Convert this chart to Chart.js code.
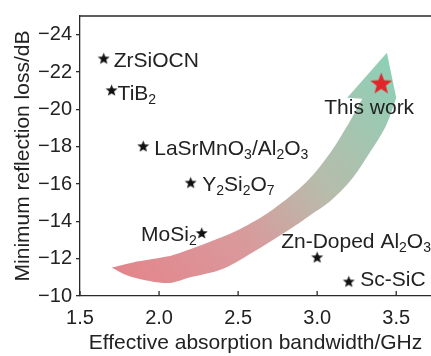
<!DOCTYPE html>
<html>
<head>
<meta charset="utf-8">
<script src="https://cdn.jsdelivr.net/npm/chart.js@4.4.1/dist/chart.umd.min.js"></script>
<style>
  html, body { margin: 0; padding: 0; background: #fff; }
</style>
</head>
<body>
<canvas id="chart" width="431" height="356"></canvas>
<script>
// reported materials ("_2" marks a subscript digit)
const materials = ['ZrSiOCN', 'TiB_2', 'LaSrMnO_3/Al_2O_3', 'Y_2Si_2O_7', 'MoSi_2', 'Zn-Doped Al_2O_3', 'Sc-SiC'];
const bandwidth = [1.65, 1.70, 1.90, 2.20, 2.27, 3.00, 3.20];
const minRL = [-22.7, -21.0, -18.0, -16.05, -13.35, -12.05, -10.75];

const thisWorkName = ['This work'];
const thisWorkBandwidth = [3.405];
const thisWorkRL = [-21.35];

const xTicks = [1.5, 2.0, 2.5, 3.0, 3.5];
const yTicks = [-24, -22, -20, -18, -16, -14, -12, -10];

const xTitle = 'Effective absorption bandwidth/GHz';
const yTitle = 'Minimum reflection loss/dB';

// trend arrow outline, in data units
const arrowUpper = [[1.701, -11.52], [1.835, -11.80], [2.049, -12.11], [2.196, -12.51], [2.354, -13.01],
                    [2.513, -13.59], [2.722, -14.65], [2.935, -16.13], [3.082, -17.66], [3.177, -18.93],
                    [3.234, -19.77], [3.285, -20.57]];
const arrowHead = [[3.190, -20.62], [3.441, -23.03], [3.500, -20.62]];
const arrowLower = [[3.481, -20.14], [3.430, -19.03], [3.335, -17.71], [3.222, -16.29], [3.082, -15.07],
                    [2.956, -14.33], [2.829, -13.59], [2.620, -12.48], [2.405, -11.46], [2.196, -11.00],
                    [2.049, -10.69], [1.835, -11.00], [1.701, -11.52]];

// label placement (pixels from the star)
const labelPlace = [
  { dx: 10, dy: 0.5, align: 'left' },
  { dx: 6, dy: 1.5, align: 'left' },
  { dx: 11, dy: 1, align: 'left' },
  { dx: 11.5, dy: 0, align: 'left' },
  { dx: -5, dy: 0, align: 'right' },
  { dx: -36, dy: -17, align: 'left' },
  { dx: 11.5, dy: -4, align: 'left' }
];
const thisWorkPlace = { dx: -12, dy: 22.5, align: 'center' };

const fontFamily = "'Liberation Sans', Arial, Helvetica, sans-serif";
const textColor = '#222';
const axisColor = '#2a2a2a';
const mainFont = '21px ' + fontFamily;
const subFont = '14px ' + fontFamily;

Chart.defaults.font.family = fontFamily;

function makeStar(r, color) {
  const c = document.createElement('canvas');
  const size = Math.ceil(2 * r + 2);
  c.width = size;
  c.height = size;
  const g = c.getContext('2d');
  const cx = size / 2, cy = size / 2, ri = r * 0.42;
  g.beginPath();
  for (let i = 0; i < 10; i++) {
    const rad = i % 2 === 0 ? r : ri;
    const a = -Math.PI / 2 + i * Math.PI / 5;
    const px = cx + rad * Math.cos(a), py = cy + rad * Math.sin(a);
    i === 0 ? g.moveTo(px, py) : g.lineTo(px, py);
  }
  g.closePath();
  g.fillStyle = color;
  g.fill();
  return c;
}
const blackStar = makeStar(6.3, '#111');
const redStar = makeStar(11.5, '#e1262b');

function parseRich(s) {
  return s.split(/_(\d)/).map((t, i) => ({ t, sub: i % 2 === 1 })).filter(p => p.t);
}

function drawRich(ctx, s, x, y, align) {
  const segs = parseRich(s);
  const widths = segs.map(p => {
    ctx.font = p.sub ? subFont : mainFont;
    return ctx.measureText(p.t).width;
  });
  const total = widths.reduce((a, b) => a + b, 0);
  let cx = align === 'right' ? x - total : align === 'center' ? x - total / 2 : x;
  segs.forEach((p, i) => {
    ctx.font = p.sub ? subFont : mainFont;
    ctx.fillText(p.t, cx, p.sub ? y + 4 : y);
    cx += widths[i];
  });
}

function smoothThrough(ctx, pts) {
  for (let i = 0; i < pts.length - 1; i++) {
    const p0 = pts[i - 1] || pts[i], p1 = pts[i], p2 = pts[i + 1], p3 = pts[i + 2] || p2;
    ctx.bezierCurveTo(
      p1[0] + (p2[0] - p0[0]) / 6, p1[1] + (p2[1] - p0[1]) / 6,
      p2[0] - (p3[0] - p1[0]) / 6, p2[1] - (p3[1] - p1[1]) / 6,
      p2[0], p2[1]);
  }
}

const arrowPlugin = {
  id: 'trendArrow',
  beforeDatasetsDraw(chart) {
    const { ctx, scales: { x, y } } = chart;
    const toPx = p => [x.getPixelForValue(p[0]), y.getPixelForValue(p[1])];
    const up = arrowUpper.map(toPx);
    const head = arrowHead.map(toPx);
    const low = arrowLower.map(toPx);
    const tail = up[0], tip = head[1];
    const grad = ctx.createLinearGradient(tail[0], tail[1], tip[0], tip[1]);
    grad.addColorStop(0, '#e3858b');
    grad.addColorStop(0.35, '#d99a9c');
    grad.addColorStop(0.62, '#b7bcab');
    grad.addColorStop(1, '#8dd0b6');
    ctx.save();
    ctx.beginPath();
    ctx.moveTo(tail[0], tail[1]);
    smoothThrough(ctx, up);
    head.forEach(p => ctx.lineTo(p[0], p[1]));
    ctx.lineTo(low[0][0], low[0][1]);
    smoothThrough(ctx, low);
    ctx.closePath();
    ctx.fillStyle = grad;
    ctx.fill();
    ctx.restore();
  }
};

const labelPlugin = {
  id: 'pointLabels',
  afterDatasetsDraw(chart) {
    const ctx = chart.ctx;
    ctx.save();
    ctx.fillStyle = textColor;
    ctx.textBaseline = 'alphabetic';
    chart.getDatasetMeta(0).data.forEach((pt, i) => {
      const lp = labelPlace[i];
      drawRich(ctx, materials[i], pt.x + lp.dx, pt.y + lp.dy + 7.5, lp.align);
    });
    chart.getDatasetMeta(1).data.forEach((pt, i) => {
      const lp = thisWorkPlace;
      drawRich(ctx, thisWorkName[i], pt.x + lp.dx, pt.y + lp.dy + 7.5, lp.align);
    });
    ctx.restore();
  }
};

const framePlugin = {
  id: 'frame',
  afterDraw(chart) {
    const { ctx, chartArea: a, scales: { x } } = chart;
    ctx.save();
    ctx.strokeStyle = axisColor;
    ctx.lineWidth = 1.3;
    ctx.beginPath();
    ctx.moveTo(a.left, a.top);
    ctx.lineTo(a.right, a.top);
    xTicks.forEach(v => {
      const px = x.getPixelForValue(v);
      ctx.moveTo(px, a.bottom);
      ctx.lineTo(px, a.bottom - 5);
    });
    ctx.stroke();
    ctx.restore();
  }
};

new Chart(document.getElementById('chart'), {
  type: 'scatter',
  data: {
    datasets: [
      {
        label: 'Reported',
        data: bandwidth.map((b, i) => ({ x: b, y: minRL[i] })),
        pointStyle: blackStar,
        pointRadius: 7
      },
      {
        label: 'This work',
        data: thisWorkBandwidth.map((b, i) => ({ x: b, y: thisWorkRL[i] })),
        pointStyle: redStar,
        pointRadius: 12
      }
    ]
  },
  options: {
    responsive: false,
    animation: false,
    devicePixelRatio: 1,
    layout: { autoPadding: false, padding: { top: 12, right: 0, bottom: 0, left: 0 } },
    plugins: {
      legend: { display: false },
      tooltip: { enabled: false }
    },
    scales: {
      x: {
        type: 'linear',
        min: 1.5,
        max: 3.72,
        afterBuildTicks: s => { s.ticks = xTicks.map(v => ({ value: v })); },
        afterFit: s => { s.height = 60; },
        grid: { display: true, drawOnChartArea: false, drawTicks: false },
        border: { color: axisColor, width: 1.3 },
        ticks: {
          padding: 10,
          color: textColor,
          font: { size: 20 },
          maxRotation: 0,
          callback: v => Number(v).toFixed(1)
        },
        title: {
          display: true,
          text: xTitle,
          color: textColor,
          font: { size: 21, lineHeight: 1.2 },
          padding: { top: 0, bottom: 0 }
        }
      },
      y: {
        type: 'linear',
        min: -25,
        max: -10,
        reverse: true,
        afterBuildTicks: s => { s.ticks = yTicks.map(v => ({ value: v })); },
        afterFit: s => { s.width = 80; },
        grid: { display: true, drawOnChartArea: false, drawTicks: true, tickLength: 4, color: axisColor, lineWidth: 1.3 },
        border: { color: axisColor, width: 1.3 },
        ticks: {
          padding: 4,
          color: textColor,
          font: { size: 20 },
          callback: v => (v < 0 ? '\u2212' + Math.abs(v) : String(v))
        },
        title: {
          display: true,
          text: yTitle,
          color: textColor,
          font: { size: 21, lineHeight: 1.2 },
          padding: { top: 11, bottom: 0 }
        }
      }
    }
  },
  plugins: [arrowPlugin, labelPlugin, framePlugin]
});
</script>
</body>
</html>
